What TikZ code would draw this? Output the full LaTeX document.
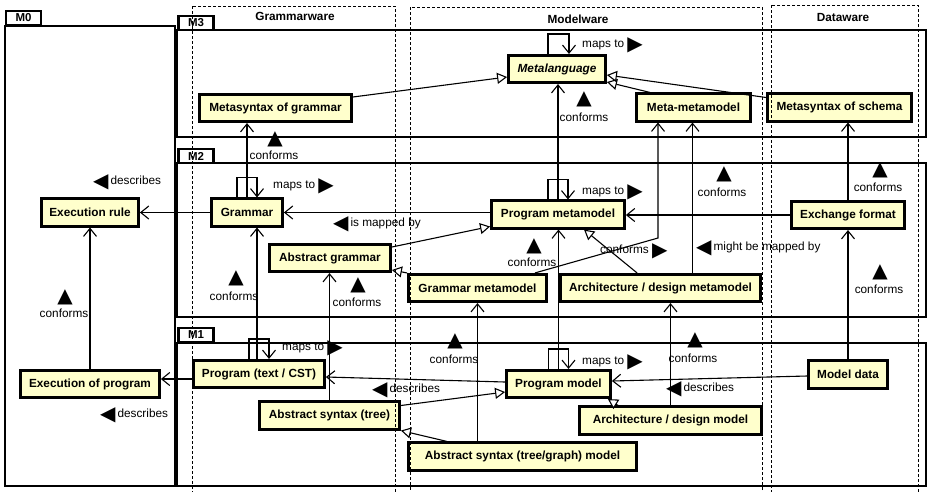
\documentclass[tikz,border=0pt]{standalone}
\usepackage{fontspec}
\setmainfont{Liberation Sans}
\newfontfamily\symfont{DejaVu Sans}
\usepackage{tikz}
\usetikzlibrary{arrows.meta}
\definecolor{clsfill}{HTML}{FFFFCC}
\newcommand{\tri}[1]{\raisebox{-3.2pt}{\symfont\fontsize{20}{20}\selectfont #1}}

\begin{document}
\begin{tikzpicture}[
x=1pt, y=-1pt,
cls/.style={draw, line width=2.8pt, fill=clsfill, minimum height=27.3pt, inner sep=2pt, font=\bfseries\fontsize{11.8}{14}\selectfont},
tab/.style={draw, line width=2.4pt, fill=white, inner sep=0pt, minimum width=35pt, minimum height=13.6pt, font=\bfseries\fontsize{11.5}{12}\selectfont},
frame/.style={draw, line width=2.3pt},
lane/.style={draw, line width=0.9pt, dash pattern=on 3pt off 2pt},
lanetitle/.style={inner sep=0pt, font=\bfseries\fontsize{11.8}{14}\selectfont},
lbl/.style={inner sep=0pt, text height=8pt, text depth=2pt, font=\fontsize{11.8}{14}\selectfont},
tri/.style={inner sep=0pt, font=\symfont\fontsize{20}{20}\selectfont},
link/.style={line width=1.1pt},
vee/.style={link, -{Straight Barb[length=8pt,width=13pt]}},
gen/.style={link, -{Triangle[length=10pt,width=11pt,fill=white]}}
]
\useasboundingbox (0,0) rectangle (928,491);

% levels
\draw[frame] (5,26) rectangle (175,486);
\draw[frame] (177,30) rectangle (926,137);
\draw[frame] (177,163) rectangle (926,317);
\draw[frame] (177,343) rectangle (926,486);
\node[tab] (m0) at (23.5,18) {M0};
\node[tab] (m3) at (196,23) {M3};
\node[tab] (m2) at (196,156) {M2};
\node[tab] (m1) at (196,335) {M1};

% M3
\node[cls, minimum width=152pt] (metagram) at (275.5,108) {Metasyntax of grammar};
\node[cls, minimum width=97pt, font=\bfseries\itshape\fontsize{11.8}{14}\selectfont] (metalang) at (557,69) {Metalanguage};
\node[cls, minimum width=114pt] (metameta) at (693.5,107.5) {Meta-metamodel};
\node[cls, minimum width=144pt] (metaschema) at (839.5,107.5) {Metasyntax of schema};

% M2
\node[cls, minimum width=97pt] (execrule) at (90,212.5) {Execution rule};
\node[cls, minimum width=71pt] (grammar) at (247,212.5) {Grammar};
\node[cls, minimum width=133pt] (progmeta) at (558,214.5) {Program metamodel};
\node[cls, minimum width=113pt] (exchange) at (848,215) {Exchange format};
\node[cls, minimum width=121pt] (absgram) at (330,258) {Abstract grammar};
\node[cls, minimum width=138pt] (grammeta) at (477.5,288) {Grammar metamodel};
\node[cls, minimum width=200pt] (archmeta) at (660.5,288) {Architecture / design metamodel};

% M1
\node[cls, minimum width=139pt] (execprog) at (90,384) {Execution of program};
\node[cls, minimum width=131pt] (progtext) at (259,374) {Program (text / CST)};
\node[cls, minimum width=140pt] (abssyn) at (329.5,415.5) {Abstract syntax (tree)};
\node[cls, minimum width=104pt] (progmodel) at (558.5,384) {Program model};
\node[cls, minimum width=182pt] (archmodel) at (670.5,420.5) {Architecture / design model};
\node[cls, minimum width=228pt] (astmodel) at (522.5,456.5) {Abstract syntax (tree/graph) model};
\node[cls, minimum width=79pt] (modeldata) at (848,374.5) {Model data};

\coordinate (gmbend) at (658,238);

% links in M3
\draw[gen] ([yshift=11pt]metagram.east) -- ([yshift=-8pt]metalang.west);
\draw[gen] ([xshift=15pt]metameta.north west) -- ([yshift=-13pt]metalang.east);
\draw[gen] ([yshift=10pt]metaschema.west) -- ([yshift=-6pt]metalang.east);
\draw[vee] ([xshift=-9pt]metalang.north) -- ++(0,-20) -| ([xshift=12pt]metalang.north);
\draw[vee] (progmeta.north) -- (progmeta.north |- metalang.south);
\draw[vee] ([xshift=-13pt]grammeta.north east) -- (gmbend) -- (gmbend |- metameta.south);
\draw[vee] ([xshift=32pt]archmeta.north) -- ([xshift=32pt]archmeta.north |- metameta.south);
\draw[vee] (exchange.north) -- (exchange.north |- metaschema.south);
\draw[vee] (grammar.north) -- (grammar.north |- metagram.south);

% links in M2
\draw[vee] ([xshift=-10pt]progmeta.north) -- ++(0,-20) -| ([xshift=10pt]progmeta.north);
\draw[vee] (grammar.east -| progmeta.west) -- (grammar.east);
\draw[gen] ([yshift=11pt]absgram.east) -- ([yshift=-12pt]progmeta.west);
\draw[gen] (grammeta.north west) -- ([yshift=-12pt]absgram.east);
\draw[vee] (exchange.west) -- (exchange.west -| progmeta.east);
\draw[vee] (grammar.west) -- (execrule.east);
\draw[vee] ([xshift=-10pt]grammar.north) -- ++(0,-20) -| ([xshift=10pt]grammar.north);
\draw[gen] ([xshift=78pt]archmeta.north west) -- ([xshift=26pt]progmeta.south);

% links in M1
\draw[vee] (execprog.north) -- (execrule.south);
\draw[vee] ([xshift=-2pt]progtext.north) -- ([xshift=-2pt]progtext.north |- grammar.south);
\draw[vee] ([xshift=-10pt]progtext.north) -- ++(0,-20) -| ([xshift=10pt]progtext.north);
\draw[vee] (abssyn.north) -- (abssyn.north |- absgram.south);
\draw[vee] ([yshift=-5pt]progtext.west) -- ([yshift=-5pt]progtext.west -| execprog.east);
\draw[vee] ([yshift=2pt]progmodel.west) -- ([yshift=-3pt]progtext.east);
\draw[gen] ([yshift=10pt]abssyn.east) -- ([yshift=-8pt]progmodel.west);
\draw[gen] ([xshift=40pt]astmodel.north west) -- (abssyn.south east);
\draw[vee] (grammeta.south |- astmodel.north) -- (grammeta.south);
\draw[vee] (progmodel.north) -- (progmodel.north |- progmeta.south);
\draw[vee] ([xshift=-10pt]progmodel.north) -- ++(0,-20) -| ([xshift=10pt]progmodel.north);
\draw[gen] ([xshift=40pt]archmodel.north west) -- ([xshift=-4pt]progmodel.south east);
\draw[vee] (archmodel.north) -- (archmodel.north |- archmeta.south);
\draw[vee] ([yshift=-1.5pt]modeldata.west) -- ([yshift=3pt]progmodel.east);
\draw[vee] (modeldata.north) -- (modeldata.north |- exchange.south);

% labels
\node[lbl, anchor=west] (mapsml) at (582,44) {maps to \tri{▶}};
\node[lbl, anchor=west] (mapsgr) at (273,185) {maps to \tri{▶}};
\node[lbl, anchor=west] (mapspm) at (582,191) {maps to \tri{▶}};
\node[lbl, anchor=west] (mapspt) at (282,347) {maps to \tri{▶}};
\node[lbl, anchor=west] (mapsmo) at (582,361) {maps to \tri{▶}};
\node[lbl, anchor=west] (descer) at (93,181) {\tri{◀}\,describes};
\node[lbl, anchor=west] (descep) at (100,414) {\tri{◀}\,describes};
\node[lbl, anchor=west] (descpt) at (372,389) {\tri{◀}\,describes};
\node[lbl, anchor=west] (descmd) at (666,388) {\tri{◀}\,describes};
\node[lbl, anchor=west] (mapby) at (333,223) {\tri{◀}\,is mapped by};
\node[lbl, anchor=west] (mightby) at (696,247) {\tri{◀}\,might be mapped by};
\node[lbl, anchor=west] (confgm) at (600,250) {conforms \tri{▶}};

\node[tri] (upml) at (584,99) {▲};
\node[lbl] (confml) at (584,118) {conforms};
\node[tri] (upmg) at (275,139) {▲};
\node[lbl] (confmg) at (274,156) {conforms};
\node[tri] (upgr) at (236,278) {▲};
\node[lbl] (confgr) at (234,297) {conforms};
\node[tri] (uper) at (65,297) {▲};
\node[lbl] (confer) at (64,314) {conforms};
\node[tri] (uppm) at (534,246) {▲};
\node[lbl] (confpm) at (532,263) {conforms};
\node[tri] (upag) at (358,285) {▲};
\node[lbl] (confag) at (357,303) {conforms};
\node[tri] (upmm) at (724,174) {▲};
\node[lbl] (confmm) at (722,193) {conforms};
\node[tri] (upms) at (880,170) {▲};
\node[lbl] (confms) at (878,188) {conforms};
\node[tri] (upef) at (880,272) {▲};
\node[lbl] (confef) at (879,290) {conforms};
\node[tri] (upgm) at (455,341) {▲};
\node[lbl] (confgmm) at (454,360) {conforms};
\node[tri] (upam) at (695,340) {▲};
\node[lbl] (confam) at (693,359) {conforms};

% columns
\draw[lane] (192,6) rectangle (395,495);
\draw[lane] (410,7) rectangle (762,495);
\draw[lane] (771,5) rectangle (918,495);
\node[lanetitle] (grammarware) at (295,16) {Grammarware};
\node[lanetitle] (modelware) at (578,19) {Modelware};
\node[lanetitle] (dataware) at (843,17) {Dataware};
\end{tikzpicture}
\end{document}
